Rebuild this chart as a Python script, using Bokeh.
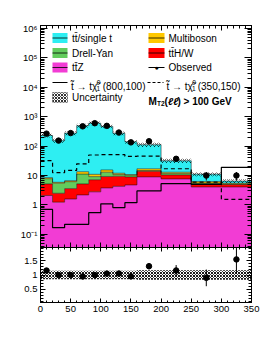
import numpy as np
from bokeh.plotting import figure
from bokeh.layouts import column
from bokeh.models import Range1d, FixedTicker, LogAxis, LinearAxis, Label, BoxAnnotation, Arrow
from bokeh.embed import file_html
from bokeh.resources import INLINE

# ---------------- data ----------------
bin_edges = [0, 20, 40, 60, 80, 100, 120, 140, 160, 200, 250, 300, 350]
ttbar_single_t = [221, 148, 270, 482, 589, 450, 263, 130, 95, 19, 4.8, 1.0]
multiboson = [0.7, 0.4, 0.5, 2.3, 1.8, 2.5, 1.1, 0.6, 2.2, 1.2, 0.7, 0.4]
drell_yan = [2.6, 3.0, 2.6, 6.0, 2.0, 3.7, 1.4, 1.2, 0.8, 1.3, 0.3, 0.1]
tth_w = [3.1, 1.25, 2.0, 3.0, 4.4, 5.5, 5.2, 4.2, 5.0, 2.8, 1.2, 0.9]
ttz = [2.1, 1.25, 1.6, 2.2, 2.8, 3.8, 4.3, 4.8, 9.0, 7.7, 4.1, 4.1]
observed = [265, 154, 277, 470, 600, 488, 289, 134, 146, 37, 10, 10]
observed_err = [16, 12, 17, 22, 24, 22, 17, 12, 12, 6, 3.2, 3.2]
unc_frac = [0.15, 0.15, 0.15, 0.15, 0.15, 0.15, 0.15, 0.15, 0.16, 0.16, 0.16, 0.16]
sig_800_100 = [0.71, 0.17, 0.22, 0.22, 0.55, 1.1, 0.82, 1.2, 3.0, 5.3, 5.0, 19]
sig_350_150 = [32, 12.5, 15, 25, 50, 51, 51, 45, 46, 17, 6, 1.56]

log_major = [0.1, 1, 10, 100, 1000, 10000, 100000, 1000000]
log_labels = ["10\u207b\u00b9", "1", "10", "10\u00b2", "10\u00b3", "10\u2074", "10\u2075", "10\u2076"]
x_major = [0, 50, 100, 150, 200, 250, 300, 350]
ratio_major = [0.5, 1, 1.5]
ratio_labels = ["0.5", "1", "1.5"]

# ---------------- style ----------------
FONT = "Liberation Sans"
C_TT = "#2EEEF2"
C_VV = "#FFC800"
C_DY = "#62CC5C"
C_TTHW = "#FF0000"
C_TTZ = "#F23CD4"

edges = np.array(bin_edges, dtype=float)
left, right = edges[:-1], edges[1:]
centers = 0.5 * (left + right)

layers = [(ttz, C_TTZ), (tth_w, C_TTHW), (drell_yan, C_DY), (multiboson, C_VV), (ttbar_single_t, C_TT)]

YMIN, YMAX = 0.036, 1.25e6
FW = 211

def style_axis(ax, labels=True, size="9.5px", major=7, minor=4):
    ax.major_tick_in = major
    ax.major_tick_out = 0
    ax.minor_tick_in = minor
    ax.minor_tick_out = 0
    ax.axis_line_color = "black"
    ax.major_tick_line_color = "black"
    ax.minor_tick_line_color = "black"
    ax.major_label_text_font = FONT
    ax.major_label_text_color = "black"
    if labels:
        ax.major_label_text_font_size = size
        ax.major_label_standoff = 3
    else:
        ax.major_label_text_font_size = "1px"
        ax.major_label_text_alpha = 0
        ax.major_label_standoff = 0

log_minor = [m * 10.0 ** k for k in range(-2, 7) for m in range(2, 10)]
x_minor = list(range(0, 351, 10))

p1 = figure(frame_width=FW, frame_height=222, y_axis_type="log",
            x_range=Range1d(0, 350), y_range=Range1d(YMIN, YMAX),
            output_backend="svg", toolbar_location=None,
            min_border_left=40, min_border_right=14, min_border_top=25, min_border_bottom=0)
p1.grid.visible = False
p1.outline_line_color = "black"
p1.background_fill_color = "white"
p1.border_fill_color = "white"

ya = p1.yaxis[0]
ya.ticker = FixedTicker(ticks=log_major, minor_ticks=log_minor)
ya.major_label_overrides = {t: l for t, l in zip(log_major, log_labels)}
style_axis(ya)
xa = p1.xaxis[0]
xa.ticker = FixedTicker(ticks=x_major, minor_ticks=x_minor)
style_axis(xa, labels=False, major=5, minor=3)
ra = LogAxis(ticker=FixedTicker(ticks=log_major, minor_ticks=log_minor))
style_axis(ra, labels=False)
p1.add_layout(ra, "right")
ta = LinearAxis(ticker=FixedTicker(ticks=x_major, minor_ticks=x_minor))
style_axis(ta, labels=False, major=5, minor=3)
p1.add_layout(ta, "above")

cum = np.zeros(len(left))
for vals, col in layers:
    bottom = np.maximum(cum, 1e-4)
    top = cum + np.array(vals, dtype=float)
    p1.varea_step(x=edges, y1=list(bottom) + [bottom[-1]], y2=list(top) + [top[-1]],
                  step_mode="after", fill_color=col)
    cum = top
cum = np.zeros(len(left))
for vals, col in layers:
    top = cum + np.array(vals, dtype=float)
    p1.step(x=edges, y=list(top) + [top[-1]], mode="after", line_color="black", line_width=0.6, line_alpha=0.8)
    cum = top
total = cum
unc = np.array(unc_frac)
p1.quad(left=left, right=right, bottom=total * (1 - unc), top=total * (1 + unc),
        fill_alpha=0, line_color=None, hatch_pattern="x", hatch_color="black",
        hatch_scale=4, hatch_weight=0.6, hatch_alpha=0.9)

p1.step(x=edges, y=list(sig_800_100) + [sig_800_100[-1]], mode="after", line_color="black", line_width=1.2)
p1.step(x=edges, y=list(sig_350_150) + [sig_350_150[-1]], mode="after", line_color="black", line_width=1.2, line_dash="4 3")

obs = np.array(observed, dtype=float)
oerr = np.array(observed_err, dtype=float)
p1.segment(x0=centers, y0=obs - oerr, x1=centers, y1=obs + oerr, line_color="black", line_width=1)
p1.scatter(x=centers, y=obs, size=5.5, fill_color="black", line_color="black")

# ---- annotations in page coordinates ----
def add_label(p, fx, fy, px, py, text, size, style="normal", align="left", baseline="alphabetic", angle=0):
    p.add_layout(Label(x=px - fx, y=fy - py, x_units="screen", y_units="screen", text=text,
                       text_font=FONT, text_font_size=f"{size}px", text_font_style=style,
                       text_align=align, text_baseline=baseline, angle=angle, text_color="black"))

def add_box(p, fx, fy, x0, y0, x1, y1, **kw):
    p.add_layout(BoxAnnotation(left=x0 - fx, right=x1 - fx, top=fy - y0, bottom=fy - y1,
                               left_units="screen", right_units="screen",
                               top_units="screen", bottom_units="screen", **kw))

def add_line(p, fx, fy, x0, y0, x1, y1, dash="solid", width=1.0):
    p.add_layout(Arrow(x_start=x0 - fx, y_start=fy - y0, x_end=x1 - fx, y_end=fy - y1,
                       start_units="screen", end_units="screen", end=None,
                       line_color="black", line_width=width, line_dash=dash))

F1X, F1Y = 40, 247

add_label(p1, F1X, F1Y, 40, 15.5, "CMS", 13.5, style="bold")
add_label(p1, F1X, F1Y, 252, 16, "137 fb\u207b\u00b9 (13 TeV)", 8, align="right")
add_label(p1, F1X, F1Y, 13, 25, "Number of events", 10, align="right", baseline="middle", angle=np.pi / 2)

rows = [37.5, 52.5, 67, 82, 97]
c1b, c1t = (52, 67), 71.5
c2b, c2t = (148, 164), 168
fill_entries = [
    (0, 0, C_TT, "t" + "t\u0304" + "/single t"),
    (0, 1, C_VV, "Multiboson"),
    (1, 0, C_DY, "Drell-Yan"),
    (1, 1, C_TTHW, "t" + "t\u0304" + "H/W"),
    (2, 0, C_TTZ, "t" + "t\u0304" + "Z"),
]
for r, c, col, txt in fill_entries:
    (bx0, bx1), tx = (c1b, c1t) if c == 0 else (c2b, c2t)
    cy = rows[r]
    add_box(p1, F1X, F1Y, bx0, cy - 5, bx1, cy + 5, fill_color=col, fill_alpha=1, line_color=None)
    add_line(p1, F1X, F1Y, bx0, cy, bx1, cy, width=0.8)
    add_label(p1, F1X, F1Y, tx, cy, txt, 10, baseline="middle")

# observed
cy = rows[2]
add_line(p1, F1X, F1Y, c2b[0], cy, c2b[1], cy, width=1.0)
add_label(p1, F1X, F1Y, 156, cy, "\u25cf", 7, align="center", baseline="middle")
add_label(p1, F1X, F1Y, c2t, cy, "Observed", 10, baseline="middle")

# signals
cy = rows[3]
add_line(p1, F1X, F1Y, 52, cy, 67, cy, width=1.2)
add_line(p1, F1X, F1Y, 147, cy, 163, cy, dash="3 2", width=1.2)
for tx0, tx1, mass in [(70.5, 145, "(800,100)"), (166, 240, "(350,150)")]:
    add_label(p1, F1X, F1Y, tx0, cy + 3.5, "t\u0303 \u2192 t\u03c7\u0303", 10)
    add_label(p1, F1X, F1Y, tx0 + 25.5, cy - 0.5, "0", 6.5, style="italic")
    add_label(p1, F1X, F1Y, tx0 + 25.5, cy + 6, "1", 6.5)
    add_label(p1, F1X, F1Y, tx1, cy + 3.5, mass, 10, align="right")

# uncertainty
cy = rows[4]
add_box(p1, F1X, F1Y, 52, cy - 5, 67, cy + 5, fill_alpha=0, line_color="black", line_width=0.8,
        hatch_pattern="x", hatch_color="black", hatch_scale=3, hatch_weight=0.8)
add_label(p1, F1X, F1Y, c1t, cy, "Uncertainty", 10, baseline="middle")
add_label(p1, F1X, F1Y, 148, cy + 3.5, "M", 10, style="bold")
add_label(p1, F1X, F1Y, 156.5, cy + 5.5, "T2", 6.5, style="bold")
add_label(p1, F1X, F1Y, 164, cy + 3.5, "(", 10, style="bold")
add_label(p1, F1X, F1Y, 167.5, cy + 3.5, "\u2113\u2113", 10, style="bold italic")
add_label(p1, F1X, F1Y, 177, cy + 3.5, ") > 100 GeV", 10, style="bold")

# ---------------- ratio panel ----------------
p2 = figure(frame_width=FW, frame_height=55, x_range=p1.x_range, y_range=Range1d(0.05, 1.95),
            output_backend="svg", toolbar_location=None,
            min_border_left=40, min_border_right=14, min_border_top=0, min_border_bottom=29)
p2.grid.visible = False
p2.outline_line_color = "black"
p2.background_fill_color = "white"
p2.border_fill_color = "white"

r_minor = [round(0.1 * i, 2) for i in range(0, 21)]
ya2 = p2.yaxis[0]
ya2.ticker = FixedTicker(ticks=ratio_major, minor_ticks=r_minor)
ya2.major_label_overrides = {t: l for t, l in zip(ratio_major, ratio_labels)}
style_axis(ya2, major=5, minor=3)
xa2 = p2.xaxis[0]
xa2.ticker = FixedTicker(ticks=x_major, minor_ticks=x_minor)
style_axis(xa2, major=4, minor=2)
ra2 = LinearAxis(ticker=FixedTicker(ticks=ratio_major, minor_ticks=r_minor))
style_axis(ra2, labels=False, major=5, minor=3)
p2.add_layout(ra2, "right")
ta2 = LinearAxis(ticker=FixedTicker(ticks=x_major, minor_ticks=x_minor))
style_axis(ta2, labels=False, major=4, minor=2)
p2.add_layout(ta2, "above")

p2.quad(left=left, right=right, bottom=1 - unc, top=1 + unc, fill_alpha=0, line_color=None,
        hatch_pattern="x", hatch_color="black", hatch_scale=3, hatch_weight=0.9, hatch_alpha=1.0)
ratio = obs / total
rerr = oerr / total
p2.segment(x0=centers, y0=ratio - rerr, x1=centers, y1=ratio + rerr, line_color="black", line_width=1)
p2.scatter(x=centers, y=ratio, size=5.5, fill_color="black", line_color="black")

F2X, F2Y = 40, 302
add_label(p2, F2X, F2Y, 13, 274.5, "Obs./Pred.", 10, align="center", baseline="middle", angle=np.pi / 2)
add_label(p2, F2X, F2Y, 193, 322.5, "M", 9.5)
add_label(p2, F2X, F2Y, 201, 324.5, "T2", 6.5)
add_label(p2, F2X, F2Y, 208.5, 322.5, "(", 9.5)
add_label(p2, F2X, F2Y, 211.5, 322.5, "b\u2113b\u2113", 9.5, style="italic")
add_label(p2, F2X, F2Y, 257, 322.5, ") (GeV)", 9.5, align="right")

layout = column(p1, p2)
open("out.html", "w").write(file_html(layout, INLINE))
